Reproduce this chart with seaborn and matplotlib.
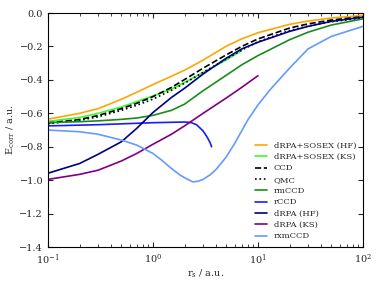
import numpy as np
import pandas as pd
import seaborn as sns
import matplotlib
matplotlib.use("Agg")
from matplotlib import pyplot as plt
from matplotlib.ticker import LogLocator, FixedLocator

# r_s grid (a.u.) shared by the long curves
rs = [0.1, 0.2, 0.3, 0.5, 0.7, 1, 1.5, 2, 3, 5, 7, 10, 20, 30, 50, 100]

sosex_hf = [-0.635, -0.60, -0.572, -0.516, -0.474, -0.428, -0.378, -0.342, -0.282, -0.198, -0.155, -0.118, -0.068, -0.048, -0.030, -0.015]
ccd = [-0.658, -0.637, -0.613, -0.572, -0.540, -0.500, -0.445, -0.398, -0.330, -0.250, -0.200, -0.155, -0.090, -0.065, -0.042, -0.022]
qmc = [-0.662, -0.642, -0.621, -0.582, -0.552, -0.515, -0.462, -0.420, -0.355, -0.275, -0.222, -0.172, -0.105, -0.078, -0.052, -0.030]
rmccd = [-0.655, -0.650, -0.645, -0.636, -0.628, -0.612, -0.582, -0.545, -0.465, -0.372, -0.310, -0.255, -0.160, -0.115, -0.072, -0.035]
drpa_hf = [-0.958, -0.900, -0.845, -0.770, -0.690, -0.595, -0.505, -0.450, -0.365, -0.270, -0.215, -0.175, -0.110, -0.080, -0.050, -0.025]

rs_sosex_ks = [0.1, 0.2, 0.3, 0.5, 0.7, 1, 1.5, 2, 3, 5, 7]
sosex_ks = [-0.648, -0.625, -0.600, -0.562, -0.530, -0.496, -0.455, -0.415, -0.356, -0.280, -0.225]

rs_drpa_ks = [0.1, 0.2, 0.3, 0.5, 0.7, 1, 1.5, 2, 3, 5, 7, 10]
drpa_ks = [-0.995, -0.965, -0.940, -0.885, -0.840, -0.785, -0.725, -0.675, -0.600, -0.508, -0.445, -0.375]

rs_rccd = [0.1, 0.3, 1, 2, 2.3, 2.6, 3.0, 3.3, 3.5, 3.62]
rccd = [-0.675, -0.668, -0.656, -0.652, -0.655, -0.668, -0.705, -0.745, -0.775, -0.800]

rs_rxm = [0.1, 0.2, 0.3, 0.5, 0.7, 1, 1.2, 1.5, 1.8, 2, 2.4, 2.7, 3, 3.5, 4, 5, 6, 7, 8, 10, 13, 20, 30, 50, 100]
rxmccd = [-0.700, -0.710, -0.725, -0.760, -0.790, -0.840, -0.878, -0.930, -0.968, -0.985, -1.010, -1.006, -0.995, -0.968, -0.935, -0.860, -0.780, -0.705, -0.640, -0.550, -0.460, -0.330, -0.215, -0.140, -0.080]

series = [
    ("dRPA+SOSEX (HF)", rs, sosex_hf, "#ffa500", "-"),
    ("dRPA+SOSEX (KS)", rs_sosex_ks, sosex_ks, "#33ff33", "-"),
    ("CCD", rs, ccd, "black", "--"),
    ("QMC", rs, qmc, "black", ":"),
    ("rmCCD", rs, rmccd, "#1a8c1a", "-"),
    ("rCCD", rs_rccd, rccd, "#1a1aff", "-"),
    ("dRPA (HF)", rs, drpa_hf, "#000080", "-"),
    ("dRPA (KS)", rs_drpa_ks, drpa_ks, "#800080", "-"),
    ("rxmCCD", rs_rxm, rxmccd, "#6699ff", "-"),
]

sns.set_style("ticks")
plt.rcParams["font.family"] = ["DejaVu Serif"]
plt.rcParams["mathtext.fontset"] = "dejavuserif"

fig = plt.figure(figsize=(3.82, 2.87), dpi=100)
ax = fig.add_axes([0.1257, 0.139, 0.8243, 0.8157])

for label, x, y, color, ls in series:
    sns.lineplot(x=x, y=y, ax=ax, color=color, linestyle=ls, linewidth=1.2, label=label)

ax.set_xscale("log")
ax.set_xlim(0.1, 100)
ax.set_ylim(-1.4, 0.0)
ax.yaxis.set_major_locator(FixedLocator(np.arange(-1.4, 0.01, 0.2)))
ax.xaxis.set_minor_locator(LogLocator(base=10, subs=np.arange(2, 10)))
ax.tick_params(which="both", direction="in", top=True, right=True, labelsize=7)
ax.tick_params(which="major", length=3.5)
ax.tick_params(which="minor", length=2)
ax.set_xlabel("r$_s$ / a.u.", fontsize=7, labelpad=1)
ax.set_ylabel("E$_{\\mathrm{corr}}$ / a.u.", fontsize=7, labelpad=2)
for sp in ax.spines.values():
    sp.set_linewidth(0.8)
    sp.set_color("black")

ax.legend(loc="lower right", frameon=False, fontsize=6, handlelength=1.5,
          labelspacing=0.4, borderaxespad=0.4)

fig.savefig("out.png", dpi=100)
